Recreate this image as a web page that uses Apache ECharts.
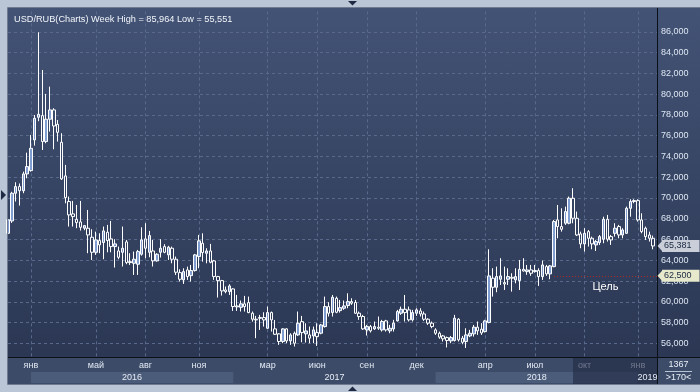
<!DOCTYPE html>
<html><head><meta charset="utf-8">
<script src="https://cdn.jsdelivr.net/npm/echarts@6/dist/echarts.min.js"></script>
<style>
html,body{margin:0;padding:0;background:#bac6d6;}
#wrap{position:relative;width:700px;height:392px;overflow:hidden;background:#bac6d6;}
#bgPlot{position:absolute;left:8px;top:8px;width:692px;height:349px;background:linear-gradient(#435375,#2b3753);}
#bgAxis{position:absolute;left:8px;top:357px;width:692px;height:27px;background:#3c4b68;}
#chart{position:absolute;left:0;top:0;width:700px;height:392px;}
</style></head><body>
<div id="wrap"><div id="bgPlot"></div><div id="bgAxis"></div><div id="chart"></div></div>
<script>
// ---------------- data ----------------
const titleText = 'USD/RUB(Charts) Week High = 85,964 Low = 55,551';
const firstWeek = '2015-11-23';
const extraBars = ['2016-12-31', '2017-12-31'];
const barCount = 171; // 170 bars + one empty slot
const labelMonths = ['2016-01','2016-05','2016-08','2016-11','2017-03','2017-06','2017-09','2017-12','2018-04','2018-07','2018-10','2019-01'];
const monthNames = ['янв','фев','мар','апр','май','июн','июл','авг','сен','окт','ноя','дек'];
const yearLabels = ['2016','2017','2018','2019'];
const yearShaded = [true, false, true, false];
const targetLevel = 62.5;
const targetFrom = '2018-08-06';
const targetLabel = 'Цель';
const shadedFrom = '2018-09-10';
const infoTop = '1367';
const infoBottom = '>170<';

const openV = [
66.6,67.79,70.46,71.1,70.7,72.32,72.64,75.6,77.78,77.94,
75.44,77.59,78.49,77.1,75.37,72.13,69.66,68.47,67.95,67.7,
67.09,67.09,66.22,64.77,65.9,65.71,66.7,66.06,65.32,64.9,
64.77,65.77,63.78,63.71,63.62,64.58,66.06,64.77,64.9,63.94,
64.77,65.32,64.52,65.16,64.1,62.81,62.11,63.07,62.52,63.01,
64.36,65.64,64.68,64.9,63.94,62.43,62.04,61.14,60.98,61.24,
59.51,59.47,59.8,59.92,58.9,58.32,58.41,58.48,57.45,58.96,
57.39,56.91,56.17,57.39,56.23,56.97,56.81,58.09,56.91,56.81,
56.71,57.03,56.97,57.61,59.54,58.96,60.34,59.15,59.38,59.64,
60.02,59.93,58.9,58.58,57.29,57.61,57.39,57.55,57.29,58.16,
57.2,57.39,58.16,58.9,59.28,59.22,58.26,58.9,59.12,58.83,
58.32,57.94,57.29,56.97,56.71,56.55,56.23,56.27,58.32,56.49,
56.17,56.71,56.91,57.55,57.36,57.13,58.0,62.27,61.4,62.17,
61.85,62.17,62.36,62.11,62.04,63.13,62.91,63.07,62.91,63.01,
62.43,63.39,62.69,63.39,67.89,67.25,67.57,67.57,69.98,68.05,
66.54,65.58,66.76,66.12,65.48,65.71,66.03,67.95,66.28,66.6,
67.25,66.44,66.6,69.01,69.66,69.75,67.89,67.09,66.44,66.12];
const highV = [
68.2,70.6,71.52,71.4,72.54,74.37,76.08,78.0,85.964,82.34,
80.03,80.73,78.65,77.52,76.24,73.19,70.14,69.72,69.33,69.72,
67.4,68.85,66.99,66.76,66.6,67.25,67.41,67.79,66.03,65.32,
67.25,65.96,64.68,64.84,65.0,67.18,67.57,66.83,65.96,64.68,
66.03,65.55,65.39,65.32,64.36,63.13,63.23,63.39,63.55,64.61,
66.44,66.6,65.16,65.58,64.04,62.5,62.11,61.47,61.69,61.3,
60.66,60.12,60.57,60.5,59.06,58.64,58.74,58.99,59.54,59.06,
58.25,56.97,57.45,57.45,56.97,57.13,59.06,58.64,57.93,57.61,
57.61,57.93,57.87,60.5,59.96,60.66,60.5,60.18,60.12,60.82,
60.34,60.18,59.06,58.74,57.77,57.77,58.1,58.58,58.26,58.26,
57.77,58.26,59.22,59.54,60.66,59.54,59.22,59.38,59.38,59.06,
58.42,58.1,57.45,57.13,56.81,56.65,56.71,58.74,58.42,56.71,
57.45,57.29,57.77,58.1,57.94,58.26,65.06,63.23,63.39,64.2,
63.39,63.23,62.75,63.23,64.03,64.2,63.55,63.55,63.55,63.23,
63.97,63.55,63.55,67.89,69.33,69.01,69.17,70.14,70.94,68.69,
66.76,67.09,66.92,66.28,65.96,66.44,68.2,68.37,66.44,67.57,
67.41,67.09,69.17,69.88,69.88,69.88,68.53,67.25,66.76,66.38];
const lowV = [
66.4,67.6,69.66,69.27,70.46,71.9,72.54,75.05,77.4,74.63,
75.28,76.4,74.7,75.44,71.74,69.49,67.25,67.25,67.09,66.86,
66.9,64.68,64.03,64.52,64.68,64.1,64.77,64.77,63.3,64.1,
63.4,63.62,63.55,62.59,62.59,64.45,64.2,64.29,63.4,63.87,
64.26,64.68,64.03,63.71,62.59,61.95,61.72,62.11,61.95,62.91,
63.23,63.87,63.71,63.71,62.11,60.41,60.6,60.82,60.66,59.12,
59.12,59.06,59.06,58.9,58.09,56.49,57.29,57.61,57.39,57.13,
56.81,55.85,56.01,56.01,55.85,55.69,56.71,56.1,56.07,56.01,
56.01,55.75,56.87,57.52,58.58,58.58,58.9,58.96,59.22,59.38,
59.7,58.83,58.26,57.29,56.75,57.04,57.29,57.29,57.13,57.13,
56.97,57.13,58.1,58.74,58.1,58.1,58.1,58.64,58.58,58.16,
57.77,57.45,56.81,56.43,56.17,55.6,56.01,56.17,56.17,55.91,
55.551,56.59,56.65,56.81,56.81,57.04,57.93,60.5,60.92,61.62,
61.14,61.62,60.98,61.78,61.14,62.91,62.6,62.5,62.81,61.53,
62.11,62.5,62.17,63.33,66.12,66.76,67.41,67.47,67.57,66.35,
65.16,64.84,65.32,65.06,64.9,65.48,65.64,65.8,65.48,66.28,
66.12,66.12,66.54,68.2,69.5,67.73,66.6,65.96,65.8,65.06];
const closeV = [
67.9,70.46,71.1,70.7,72.32,73.03,74.79,77.68,78.07,75.44,
77.59,78.49,76.94,76.33,71.84,70.04,68.37,68.21,67.63,67.18,
67.34,66.44,64.77,65.96,65.48,66.83,65.9,65.32,65.58,64.29,
65.16,63.78,63.87,64.1,64.84,65.96,65.16,66.38,63.94,64.58,
65.16,64.77,65.26,64.1,62.85,62.17,62.91,62.43,63.01,64.52,
65.87,64.74,64.9,63.81,62.43,62.04,61.05,60.98,61.53,59.54,
59.6,59.8,59.54,58.96,58.32,58.25,58.48,58.25,58.96,58.25,
56.87,56.17,57.39,56.23,56.81,56.01,57.93,57.03,57.19,56.49,
57.29,56.65,57.77,59.54,58.9,60.44,58.99,59.44,59.6,60.02,
59.86,58.9,58.58,57.39,57.61,57.2,57.61,57.45,58.1,57.29,
57.45,57.94,59.06,59.28,58.96,58.26,58.96,59.22,58.83,58.32,
57.94,57.61,56.97,56.59,56.43,56.27,56.55,58.42,56.33,56.1,
56.81,56.97,57.55,57.2,57.0,58.16,62.49,61.4,62.43,62.49,
61.72,62.43,62.27,62.43,63.13,62.97,63.07,62.75,63.01,62.43,
63.55,62.69,63.46,67.73,67.25,66.99,68.69,69.98,68.05,66.44,
65.58,66.6,66.12,65.58,65.8,66.28,67.95,66.03,65.96,67.09,
66.44,66.92,69.01,69.66,69.75,67.89,66.76,66.28,66.12,65.381];

// ---------------- build ----------------
const weekDates = [];
(function () {
  let t = Date.parse(firstWeek);
  while (weekDates.length < barCount) {
    weekDates.push(new Date(t).toISOString().slice(0, 10));
    const next = t + 7 * 864e5;
    extraBars.forEach(e => { const te = Date.parse(e); if (te > t && te < next && weekDates.length < barCount) weekDates.push(e); });
    t = next;
  }
})();
const ohlc = openV.map((o, i) => [o, closeV[i], lowV[i], highV[i]]);
const monthKey = d => d.slice(0, 7);
const isLabelBar = i => i > 0 && monthKey(weekDates[i]) !== monthKey(weekDates[i - 1]) && labelMonths.indexOf(monthKey(weekDates[i])) >= 0;
const fmt3 = v => v.toFixed(3).replace('.', ',');
const lastClose = closeV[closeV.length - 1];

const FONT = '"Liberation Sans", Arial, sans-serif';

const yearAreas = yearLabels.map((y, k) => {
  const s = weekDates.findIndex(d => d.startsWith(y));
  let e = weekDates.findIndex(d => d.startsWith(String(+y + 1)));
  if (e < 0) e = weekDates.length - 1;
  return [{ xAxis: weekDates[s], yAxis: 1, name: y, itemStyle: { color: yearShaded[k] ? '#4b5b7a' : 'rgba(0,0,0,0)' } },
          { xAxis: weekDates[e], yAxis: 12 }];
});

const tagLabel = (text, bg) => ({ show: true, position: 'end', distance: 5, formatter: text, backgroundColor: bg,
  color: '#1a2840', fontSize: 9, fontFamily: FONT, padding: [2, 8, 1, 2] });

const chart = echarts.init(document.getElementById('chart'), null, { renderer: 'canvas' });
const option = {
  animation: false,
  backgroundColor: 'transparent',
  title: { text: titleText, left: 9, top: 10, textStyle: { color: '#f2f5fa', fontSize: 9.2, fontWeight: 'normal', fontFamily: FONT } },
  grid: [
    { left: 8, right: 43, top: 11.32, bottom: 35, show: false },
    { left: 8, right: 43, top: 357, height: 27, show: false }
  ],
  xAxis: [
    { type: 'category', data: weekDates, boundaryGap: false,
      axisLine: { show: false }, axisTick: { show: false },
      axisLabel: { interval: (i) => isLabelBar(i), formatter: v => monthNames[+v.slice(5, 7) - 1], color: '#e2e9f3', fontSize: 9, fontFamily: FONT, margin: 4 },
      splitLine: { show: true, interval: (i) => isLabelBar(i), lineStyle: { color: '#58698b', type: [3, 3], width: 1 } } },
    { gridIndex: 1, type: 'category', data: weekDates, boundaryGap: false, show: false }
  ],
  yAxis: [
    { type: 'value', position: 'right', min: 54.68, max: 87.99, splitNumber: 17, minInterval: 2, maxInterval: 2,
      axisLine: { show: false }, axisTick: { show: false },
      axisLabel: { color: '#dde6f2', fontSize: 9, fontFamily: FONT, margin: 4, showMinLabel: false, showMaxLabel: false, formatter: fmt3 },
      splitLine: { show: true, showMinLine: false, showMaxLine: false, lineStyle: { color: '#58698b', type: [3, 3], width: 1 } } },
    { gridIndex: 1, type: 'value', min: 0, max: 27, show: false }
  ],
  series: [
    { type: 'candlestick', name: 'USD/RUB', data: ohlc, barWidth: 3,
      itemStyle: { color: '#7f9dd0', color0: 'rgba(0,0,0,0)', borderColor: '#ffffff', borderColor0: '#ffffff', borderWidth: 1 },
      markLine: {
        silent: true, symbol: ['none', 'none'], animation: false,
        data: [
          [ { coord: [targetFrom, targetLevel], lineStyle: { color: '#b22a2a', type: [1, 2], width: 1 },
              label: { show: true, position: 'insideMiddleBottom', formatter: targetLabel, color: '#ffffff', fontSize: 11, fontFamily: FONT, distance: 6 } },
            { coord: [weekDates[weekDates.length - 1], targetLevel] } ],
          { yAxis: targetLevel, lineStyle: { color: 'rgba(0,0,0,0)', width: 1 }, label: tagLabel(fmt3(targetLevel), '#e6e9cb') },
          { yAxis: lastClose, lineStyle: { color: 'rgba(0,0,0,0)', width: 1 }, label: tagLabel(fmt3(lastClose), '#c9ced8') }
        ]
      }
    },
    { type: 'line', xAxisIndex: 1, yAxisIndex: 1, data: [], silent: true,
      markArea: { silent: true, label: { show: true, position: 'inside', color: '#e6ecf5', fontSize: 9, fontFamily: FONT }, data: yearAreas } },
    { type: 'line', xAxisIndex: 1, yAxisIndex: 1, data: [], silent: true, z: 5,
      markArea: { silent: true, itemStyle: { color: 'rgba(32,40,67,0.6)' },
        data: [[{ xAxis: shadedFrom, yAxis: 0 }, { xAxis: weekDates[weekDates.length - 1], yAxis: 27 }]] } }
  ]
};
chart.setOption(option);

const yT = chart.convertToPixel({ yAxisIndex: 0 }, targetLevel);
const yL = chart.convertToPixel({ yAxisIndex: 0 }, lastClose);
const dark = '#1d2a42';
const txt = (t, x, y) => ({ type: 'text', z: 100, x: x, y: y, style: { text: t, fill: '#e8eef6', font: '9px ' + FONT, textAlign: 'center', textVerticalAlign: 'middle' } });
chart.setOption({ graphic: [
  { type: 'rect', z: 99, shape: { x: 7.5, y: 7.5, width: 700, height: 377 }, style: { fill: null, stroke: '#6f7b90', lineWidth: 1 } },
  { type: 'line', z: 100, shape: { x1: 657.5, y1: 8, x2: 657.5, y2: 384 }, style: { stroke: '#0b0f18', lineWidth: 1 } },
  { type: 'line', z: 100, shape: { x1: 8, y1: 357.5, x2: 700, y2: 357.5 }, style: { stroke: '#0b0f18', lineWidth: 1 } },
  { type: 'polygon', z: 100, shape: { points: [[348, 1], [357, 1], [352.5, 5.5]] }, style: { fill: dark } },
  { type: 'polygon', z: 100, shape: { points: [[348, 391], [357, 391], [352.5, 386.5]] }, style: { fill: dark } },
  { type: 'polygon', z: 100, shape: { points: [[1, 190], [1, 200], [6, 195]] }, style: { fill: dark } },
  txt(infoTop, 678.5, 365),
  { type: 'line', z: 100, shape: { x1: 665, y1: 371.5, x2: 692, y2: 371.5 }, style: { stroke: '#b8c4d6', lineWidth: 1 } },
  txt(infoBottom, 678.5, 378),
  { type: 'polygon', z: 100, shape: { points: [[657.5, yT], [662.5, yT - 5.5], [662.5, yT + 5.5]] }, style: { fill: '#e6e9cb' } },
  { type: 'polygon', z: 100, shape: { points: [[657.5, yL], [662.5, yL - 5.5], [662.5, yL + 5.5]] }, style: { fill: '#c9ced8' } }
] });
</script>
</body></html>
